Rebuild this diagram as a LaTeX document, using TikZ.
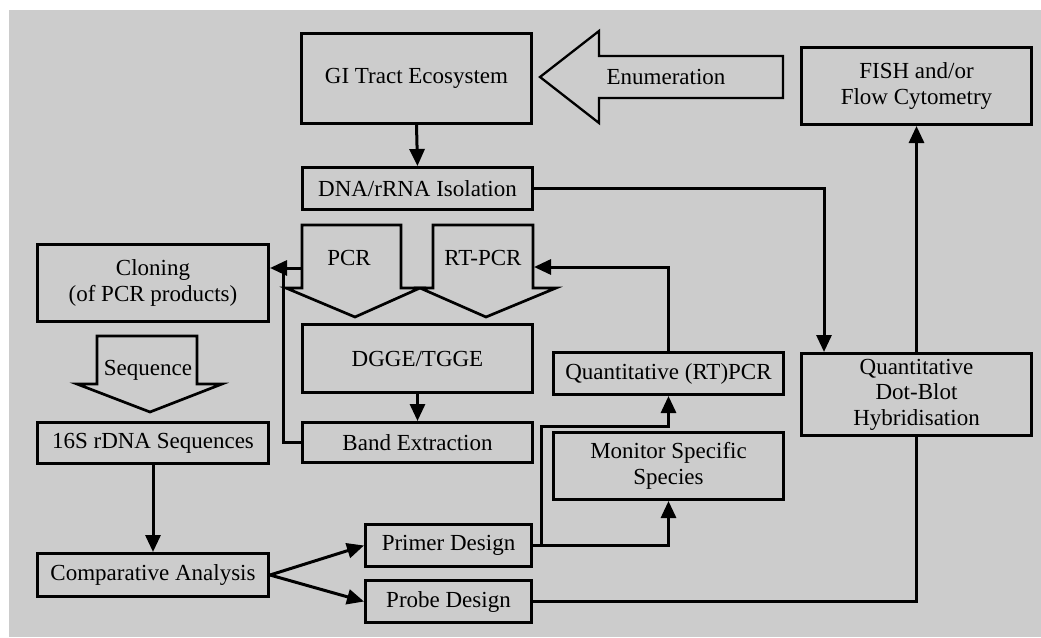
\documentclass[tikz,border=0pt]{standalone}
\usepackage{fontspec}
\setmainfont{Liberation Serif}
\usetikzlibrary{arrows.meta}
\definecolor{bggray}{RGB}{204,204,204}
\begin{document}
\begin{tikzpicture}[x=1pt,y=-1pt]
\tikzset{
 bx/.style={draw=black, line width=3.2pt, inner sep=0pt, align=center, font=\fontsize{23}{25.5}\selectfont},
 blk/.style={draw=black, line width=2.7pt, line join=miter},
 lbl/.style={inner sep=0pt, font=\fontsize{23}{25.5}\selectfont},
 conn/.style={line width=3pt},
 arr/.style={conn, -{Triangle[length=17pt,width=15pt]}},
}
\useasboundingbox (0,0) rectangle (1041,637);
\fill[bggray] (9,10) rectangle (1041,637);

% boxes
\node[bx, minimum width=229.8pt, minimum height=89.8pt] (gi) at (416.5,78.5) {GI Tract Ecosystem};
\node[bx, minimum width=229.8pt, minimum height=76.8pt] (fish) at (916.5,86) {FISH and/or\\Flow Cytometry};
\node[bx, minimum width=229.8pt, minimum height=41.8pt] (dna) at (417.5,188.5) {DNA/rRNA Isolation};
\node[bx, minimum width=230.8pt, minimum height=76.8pt] (cloning) at (153,283) {Cloning\\(of PCR products)};
\node[bx, minimum width=229.8pt, minimum height=67.8pt] (dgge) at (417.5,358.5) {DGGE/TGGE};
\node[bx, minimum width=229.8pt, minimum height=39.8pt] (band) at (417.5,442.5) {Band Extraction};
\node[bx, minimum width=230.8pt, minimum height=40.8pt] (seq16) at (153,443) {16S rDNA Sequences};
\node[bx, minimum width=230.8pt, minimum height=42.8pt] (comp) at (153,575) {Comparative Analysis};
\node[bx, minimum width=165.8pt, minimum height=41.8pt] (primer) at (448.5,545.5) {Primer Design};
\node[bx, minimum width=165.8pt, minimum height=41.8pt] (probe) at (448.5,601.5) {Probe Design};
\node[bx, minimum width=229.8pt, minimum height=41.8pt] (qpcr) at (668.5,373.5) {Quantitative (RT)PCR};
\node[bx, minimum width=229.8pt, minimum height=66.8pt] (monitor) at (668.5,466) {Monitor Specific\\Species};
\node[bx, minimum width=229.8pt, minimum height=81.8pt] (dotblot) at (916.5,394.5) {Quantitative\\Dot-Blot\\Hybridisation};

% block arrows
\draw[blk, line width=2.3pt] (540,77) -- (599,31) -- (599,56) -- (783,56) -- (783,98) -- (599,98) -- (599,123) -- cycle;
\node[lbl] (enum) at (666,77) {Enumeration};

\draw[blk] (302,225) -- (401,225) -- (401,288) -- (420,288) -- (355,317) -- (286,288) -- (302,288) -- cycle;
\node[lbl] (pcrl) at (349,258) {PCR};

\draw[blk] (433,225) -- (533,225) -- (533,288) -- (556,288) -- (486,317) -- (420,288) -- (433,288) -- cycle;
\node[lbl] (rtl) at (483,258) {RT-PCR};

\draw[blk] (97,336) -- (197,336) -- (197,384) -- (222,384) -- (150,412) -- (77,384) -- (97,384) -- cycle;
\node[lbl] (seql) at (148,370) {Sequence};

% connectors
\draw[arr] (gi.south) -- (dna.north);
\draw[arr] (dna.east) -| ([xshift=-92.5pt]dotblot.north);
\draw[arr] (dotblot.north) -- (fish.south);
\draw[conn] (probe.east) -| (dotblot.south);
\draw[arr] (comp.east) -- (primer.west);
\draw[arr] (comp.east) -- (probe.west);
\draw[arr] (primer.east) -| (monitor.south);
\coordinate (qj) at (541,426);
\draw[arr] (primer.east -| qj) -- (qj) -| (qpcr.south);
\coordinate (rtin) at (534,267);
\draw[arr] (qpcr.north) |- (rtin);
\coordinate (pcrout) at (302,268);
\draw[arr] (pcrout) -- (pcrout -| cloning.east);
\coordinate (bj) at (283,268);
\draw[conn] (band.west) -| (bj);
\draw[arr] (dgge.south) -- (band.north);
\draw[arr] (seq16.south) -- (comp.north);
\end{tikzpicture}
\end{document}
